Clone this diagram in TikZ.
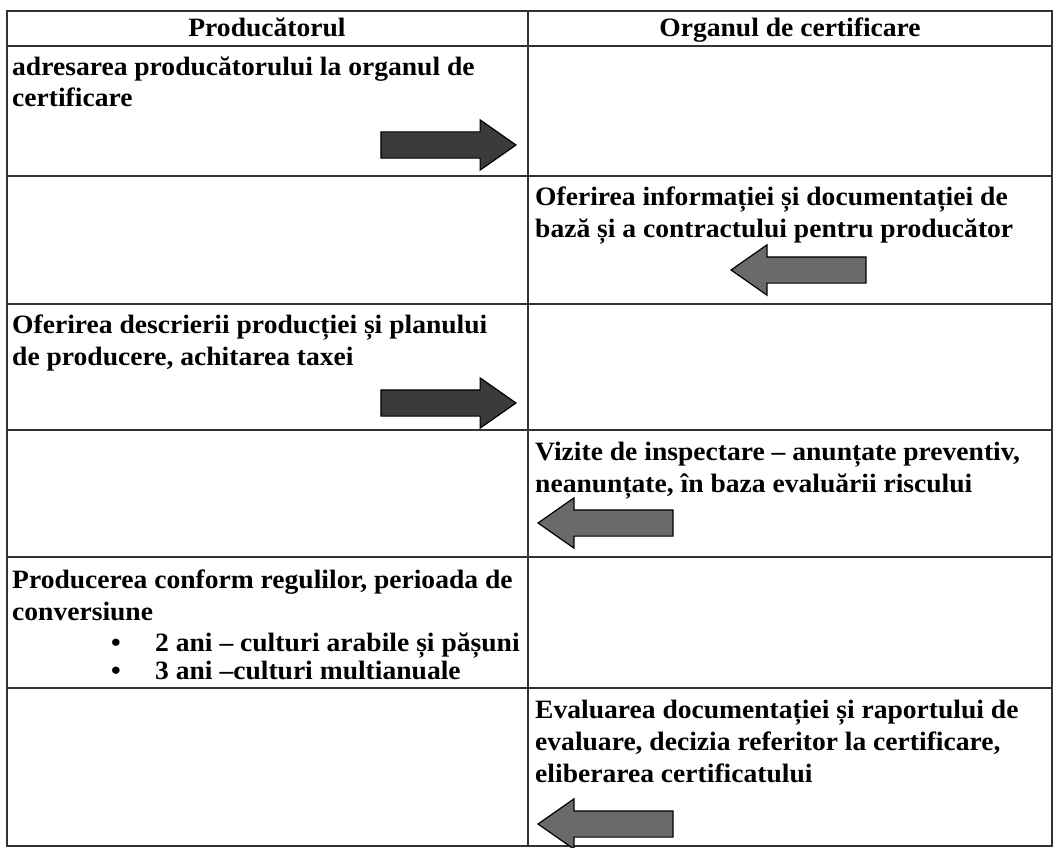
\documentclass[tikz,border=0pt]{standalone}
\usepackage{fontspec}
\setmainfont{Liberation Serif}[FakeStretch=1.04]
\usetikzlibrary{shapes.arrows}
\definecolor{darkfill}{HTML}{3B3B3B}
\definecolor{greyfill}{HTML}{6A6A6A}
\tikzset{
  rule/.style={line width=1.5pt, black!80},
  title/.style={anchor=base, inner sep=0pt, font=\bfseries\fontsize{26.5}{32}\selectfont},
  cell/.style={anchor=base west, align=left, inner sep=0pt, font=\bfseries\fontsize{26.5}{32}\selectfont},
  toright/.style={single arrow, draw=black, fill=darkfill, line width=1.2pt, minimum height=135pt, inner xsep=0pt, inner ysep=12.5pt, single arrow head extend=12pt, single arrow tip angle=70, anchor=tip},
  toleft/.style={toright, fill=greyfill, shape border rotate=180}
}
\begin{document}
\begin{tikzpicture}[x=1pt,y=-1pt]
\useasboundingbox (0,0) rectangle (1057,848);
% table
\draw[rule] (7,11) rectangle (1052,846);
\draw[rule] (528,11) -- (528,846);
\foreach \y in {46,176,304,430,557,688}
  \draw[rule] (7,\y) -- (1052,\y);

\node[title] (hprod) at (267,37) {Producătorul};
\node[title] (horg) at (790,37) {Organul de certificare};

\node[cell] (t1) at (12,107) {adresarea producătorului la organul de\\certificare};
\node[toright] (a1) at (517,145) {};

\node[cell] (t2) at (535,237) {Oferirea informației și documentației de\\bază și a contractului pentru producător};
\node[toleft] (a2) at (730,270) {};

\node[cell] (t3) at (12,365) {Oferirea descrierii producției și planului\\de producere, achitarea taxei};
\node[toright] (a3) at (517,403) {};

\node[cell] (t4) at (535,492) {Vizite de inspectare – anunțate preventiv,\\neanunțate, în baza evaluării riscului};
\node[toleft] (a4) at (537,523) {};

\node[cell] (t5) at (12,620) {Producerea conform regulilor, perioada de\\conversiune};
\node[cell] (b1) at (111,651) {\makebox[44pt][l]{•}2 ani – culturi arabile și pășuni};
\node[cell] (b2) at (111,679) {\makebox[44pt][l]{•}3 ani –culturi multianuale};

\node[cell] (t6) at (535,782) {Evaluarea documentației și raportului de\\evaluare, decizia referitor la certificare,\\eliberarea certificatului};
\node[toleft] (a6) at (537,824) {};
\end{tikzpicture}
\end{document}
